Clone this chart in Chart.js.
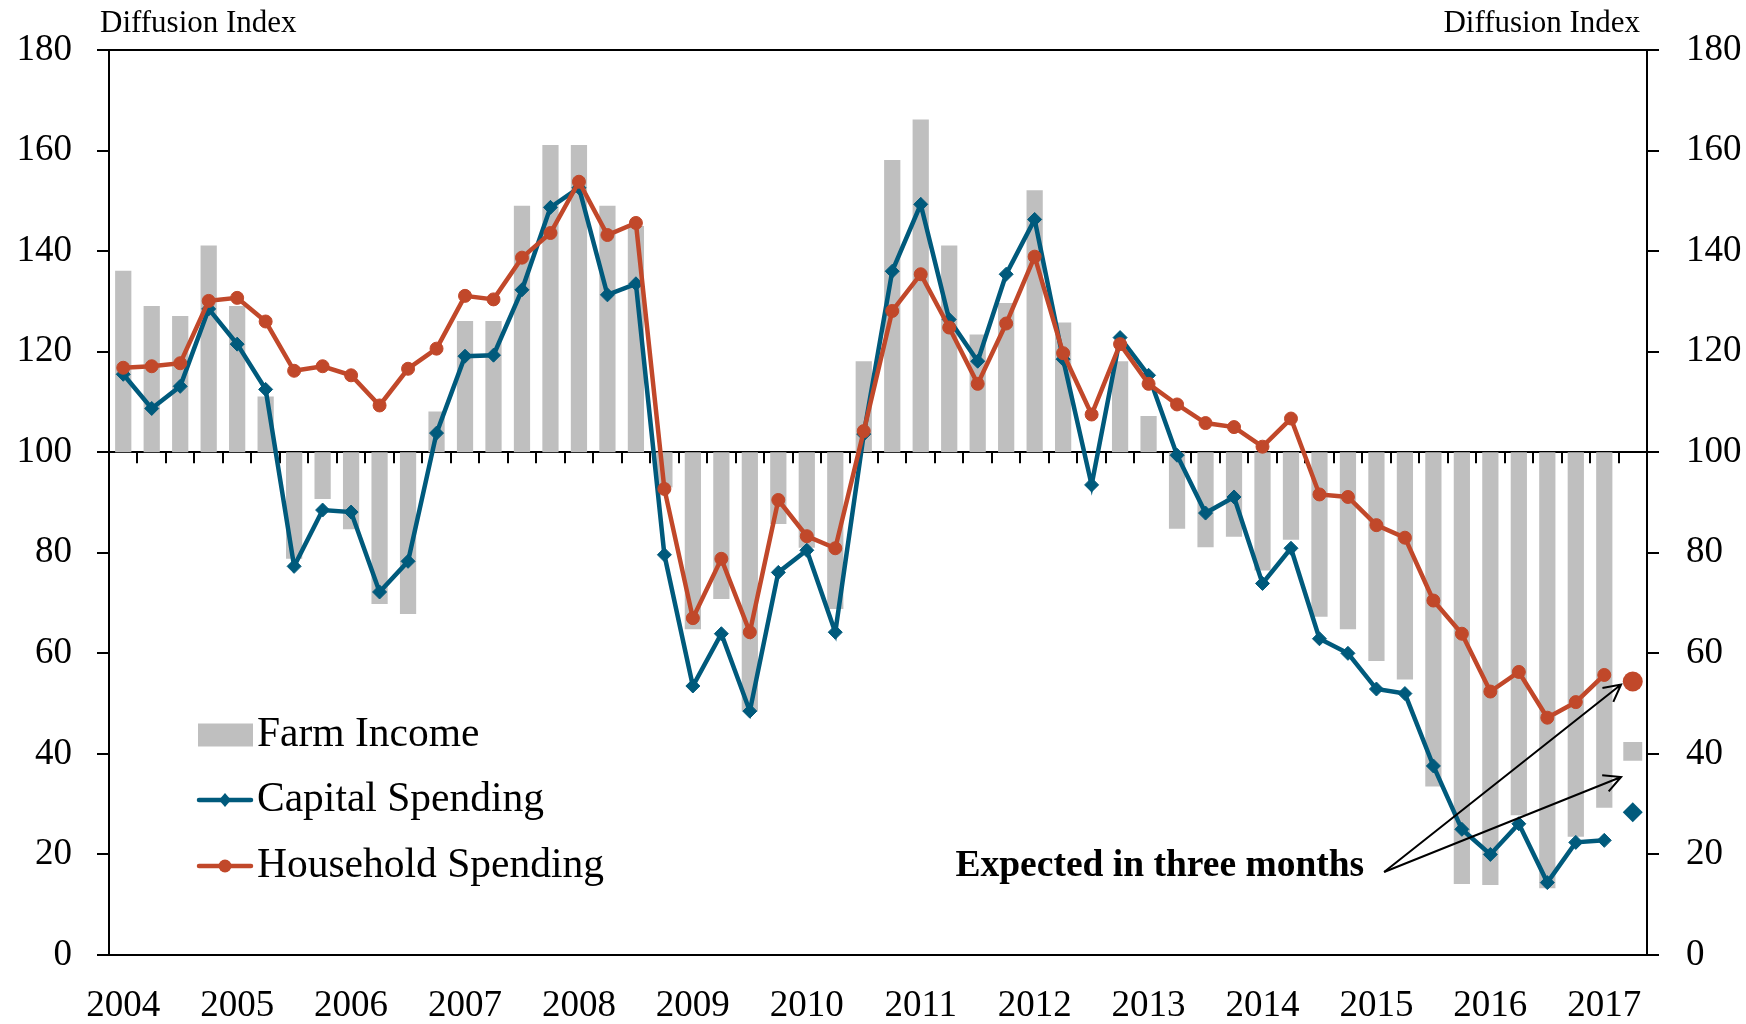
<!DOCTYPE html>
<html>
<head>
<meta charset="utf-8">
<title>Farm Income, Capital and Household Spending</title>
<script src="https://cdn.jsdelivr.net/npm/chart.js@4.4.1/dist/chart.umd.min.js"></script>
<style>
  html, body { margin: 0; padding: 0; background: #fff; }
</style>
</head>
<body>
<canvas id="farm-chart" width="1746" height="1024"></canvas>
<script>
// quarterly categories, 2004 Q1 .. 2017 Q2 (last one is the "expected" quarter)
const years = [2004, 2005, 2006, 2007, 2008, 2009, 2010, 2011, 2012, 2013, 2014, 2015, 2016, 2017];
const quarters = ['Q1', 'Q2', 'Q3', 'Q4'];
const categories = [];
years.forEach(y => quarters.forEach(q => categories.push(y + ' ' + q)));
categories.splice(54);
const yearLabels = years.map(String);

// diffusion index values, 2004 Q1 .. 2017 Q1
const farmIncome = [
  136.1, 129.1, 127.1, 141.1,
  129.1, 111.1, 78.8, 90.7,
  84.7, 69.8, 67.8, 108.1,
  126.1, 126.1, 149.0, 161.1,
  161.1, 149.0, 145.0, 93.0,
  64.8, 70.8, 48.5, 85.7,
  81.0, 68.8, 118.1, 158.1,
  166.2, 141.1, 123.4, 129.7,
  152.1, 125.8, 100.0, 118.1,
  107.2, 84.8, 81.1, 83.2,
  76.5, 82.6, 67.3, 64.8,
  58.5, 54.8, 33.5, 14.1,
  13.9, 27.8, 13.3, 23.5,
  29.3
];
const capitalSpending = [
  115.5, 108.7, 113.1, 128.5,
  121.5, 112.5, 77.3, 88.5,
  88.1, 72.2, 78.3, 103.8,
  119.1, 119.3, 132.3, 148.7,
  152.6, 131.3, 133.5, 79.6,
  53.5, 63.9, 48.5, 76.1,
  80.5, 64.2, 103.6, 136.0,
  149.3, 126.4, 118.1, 135.4,
  146.3, 118.5, 93.5, 122.8,
  115.3, 99.4, 87.9, 91.1,
  73.9, 80.9, 62.9, 60.0,
  52.9, 52.0, 37.6, 25.0,
  20.0, 26.1, 14.4, 22.4,
  22.8
];
const householdSpending = [
  116.8, 117.1, 117.7, 130.1,
  130.7, 126.0, 116.2, 117.1,
  115.3, 109.3, 116.6, 120.6,
  131.1, 130.4, 138.7, 143.6,
  153.8, 143.2, 145.6, 92.7,
  67.0, 78.8, 64.2, 90.5,
  83.3, 80.9, 104.2, 128.1,
  135.4, 124.8, 113.6, 125.6,
  138.9, 119.7, 107.5, 121.5,
  113.6, 109.5, 105.8, 105.0,
  101.1, 106.7, 91.6, 91.1,
  85.5, 83.0, 70.5, 63.9,
  52.4, 56.3, 47.2, 50.3,
  55.7
];
// expected in three months (2017 Q2)
const farmExpected = 40.5;
const capitalExpected = 28.4;
const householdExpected = 54.4;

const FONT = "'Liberation Serif', 'DejaVu Serif', serif";
const BLUE = '#005a7c';
const RED = '#c1482a';
const GRAY = '#bfbfbf';

const lastIdx = categories.length - 1;
const onlyLast = v => categories.map((c, i) => (i === lastIdx ? v : null));

function arrow(ctx, x0, y0, x1, y1) {
  const a = Math.atan2(y1 - y0, x1 - x0);
  const h = 19, s = 0.48;
  ctx.beginPath();
  ctx.moveTo(x0, y0);
  ctx.lineTo(x1, y1);
  ctx.moveTo(x1 - h * Math.cos(a - s), y1 - h * Math.sin(a - s));
  ctx.lineTo(x1, y1);
  ctx.lineTo(x1 - h * Math.cos(a + s), y1 - h * Math.sin(a + s));
  ctx.stroke();
}

const decorations = {
  id: 'decorations',
  beforeDatasetsDraw(chart) {
    // small ticks hanging from the 100 line between quarters
    const { ctx, scales: { x, y } } = chart;
    const y100 = y.getPixelForValue(100);
    ctx.save();
    ctx.strokeStyle = '#000';
    ctx.lineWidth = 2;
    ctx.beginPath();
    for (let i = 1; i < categories.length; i++) {
      const px = Math.round(x.getPixelForValue(i - 0.5));
      ctx.moveTo(px, y100);
      ctx.lineTo(px, y100 + 11);
    }
    ctx.stroke();
    ctx.restore();
  },
  afterDraw(chart) {
    const { ctx, scales: { x, y } } = chart;
    const ds = chart.data.datasets;
    ctx.save();

    // axis captions
    ctx.fillStyle = '#000';
    ctx.font = '31px ' + FONT;
    ctx.textBaseline = 'alphabetic';
    ctx.textAlign = 'left';
    ctx.fillText('Diffusion Index', 100, 32);
    ctx.textAlign = 'right';
    ctx.fillText('Diffusion Index', 1640, 32);

    // legend
    const lx0 = 197, lx1 = 253, tx = 257;
    const rows = [735, 800, 866];
    ctx.font = '41.5px ' + FONT;
    ctx.textAlign = 'left';
    ctx.textBaseline = 'middle';
    ctx.fillStyle = ds[0].backgroundColor;
    ctx.fillRect(lx0 + 1, rows[0] - 11.5, lx1 - lx0 - 1, 23);
    [1, 2].forEach((d, k) => {
      const yy = rows[k + 1];
      const c = ds[d].borderColor;
      ctx.strokeStyle = c;
      ctx.fillStyle = c;
      ctx.lineWidth = 4.5;
      ctx.lineCap = 'round';
      ctx.beginPath();
      ctx.moveTo(lx0 + 2, yy);
      ctx.lineTo(lx1 - 2, yy);
      ctx.stroke();
      const cx = (lx0 + lx1) / 2;
      ctx.beginPath();
      if (ds[d].pointStyle === 'rectRot') {
        ctx.moveTo(cx - 6, yy);
        ctx.lineTo(cx, yy - 7);
        ctx.lineTo(cx + 6, yy);
        ctx.lineTo(cx, yy + 7);
        ctx.closePath();
      } else {
        ctx.arc(cx, yy, 6.5, 0, Math.PI * 2);
      }
      ctx.fill();
    });
    ctx.fillStyle = '#000';
    [0, 1, 2].forEach((d, k) => ctx.fillText(ds[d].label, tx, rows[k]));

    // annotation
    ctx.font = 'bold 37.5px ' + FONT;
    ctx.textAlign = 'right';
    ctx.textBaseline = 'middle';
    ctx.fillText('Expected in three months', x.getPixelForValue(43.57), y.getPixelForValue(17.6));
    ctx.strokeStyle = '#000';
    ctx.lineWidth = 2;
    ctx.lineCap = 'butt';
    const x0 = x.getPixelForValue(44.27), y0 = y.getPixelForValue(16.5);
    const xt = x.getPixelForValue(52.59);
    arrow(ctx, x0, y0, xt, y.getPixelForValue(53.8));
    arrow(ctx, x0, y0, xt, y.getPixelForValue(35.4));
    ctx.restore();
  }
};

const tickFont = { family: FONT, size: 37 };

new Chart(document.getElementById('farm-chart'), {
  data: {
    labels: categories,
    datasets: [
      {
        type: 'bar',
        label: 'Farm Income',
        data: farmIncome.map(v => [100, v]),
        backgroundColor: GRAY,
        borderWidth: 0,
        barPercentage: 0.57,
        categoryPercentage: 1.0,
        yAxisID: 'y',
        order: 3
      },
      {
        type: 'line',
        label: 'Capital Spending',
        data: capitalSpending,
        borderColor: BLUE,
        backgroundColor: BLUE,
        borderWidth: 4.5,
        pointStyle: 'rectRot',
        pointRadius: 7,
        pointBorderWidth: 1,
        pointBackgroundColor: BLUE,
        tension: 0,
        yAxisID: 'y',
        order: 2
      },
      {
        type: 'line',
        label: 'Household Spending',
        data: householdSpending,
        borderColor: RED,
        backgroundColor: RED,
        borderWidth: 4.5,
        pointStyle: 'circle',
        pointRadius: 6.5,
        pointBorderWidth: 1,
        pointBackgroundColor: RED,
        tension: 0,
        yAxisID: 'y',
        order: 1
      },
      {
        type: 'line',
        label: 'Farm Income (expected)',
        data: onlyLast(farmExpected),
        showLine: false,
        pointStyle: 'rect',
        pointRadius: 13.4,
        pointBorderWidth: 0,
        pointBackgroundColor: GRAY,
        borderColor: GRAY,
        yAxisID: 'y',
        order: 0
      },
      {
        type: 'line',
        label: 'Capital Spending (expected)',
        data: onlyLast(capitalExpected),
        showLine: false,
        pointStyle: 'rectRot',
        pointRadius: 10,
        pointBorderWidth: 0,
        pointBackgroundColor: BLUE,
        borderColor: BLUE,
        yAxisID: 'y',
        order: 0
      },
      {
        type: 'line',
        label: 'Household Spending (expected)',
        data: onlyLast(householdExpected),
        showLine: false,
        pointStyle: 'circle',
        pointRadius: 10,
        pointBorderWidth: 0,
        pointBackgroundColor: RED,
        borderColor: RED,
        yAxisID: 'y',
        order: 0
      }
    ]
  },
  options: {
    responsive: false,
    animation: false,
    devicePixelRatio: 1,
    events: [],
    layout: { padding: { top: 50, left: 0, right: 0, bottom: 0 } },
    plugins: {
      legend: { display: false },
      tooltip: { enabled: false }
    },
    scales: {
      x: {
        type: 'category',
        offset: true,
        grid: { display: false, drawTicks: false },
        border: { display: true, color: '#000', width: 2 },
        ticks: {
          autoSkip: false,
          maxRotation: 0,
          minRotation: 0,
          padding: 29,
          color: '#000',
          font: tickFont,
          callback: (v, i) => (i % 4 === 0 ? yearLabels[i / 4] : '')
        },
        afterFit: s => { s.height = 69; }
      },
      y: {
        type: 'linear',
        position: 'left',
        min: 0,
        max: 180,
        ticks: { stepSize: 20, padding: 25, color: '#000', font: tickFont },
        grid: {
          drawOnChartArea: true,
          color: c => (c.tick && [0, 100, 180].includes(c.tick.value) ? '#000' : 'rgba(0,0,0,0)'),
          tickColor: '#000',
          tickLength: 12,
          lineWidth: 2
        },
        border: { display: true, color: '#000', width: 2 },
        afterFit: s => { s.width = 109; }
      },
      y2: {
        type: 'linear',
        position: 'right',
        min: 0,
        max: 180,
        ticks: { stepSize: 20, padding: 27, color: '#000', font: tickFont },
        grid: {
          drawOnChartArea: false,
          color: '#000',
          tickColor: '#000',
          tickLength: 12,
          lineWidth: 2
        },
        border: { display: true, color: '#000', width: 2 },
        afterFit: s => { s.width = 99; }
      }
    }
  },
  plugins: [decorations]
});
</script>
</body>
</html>
